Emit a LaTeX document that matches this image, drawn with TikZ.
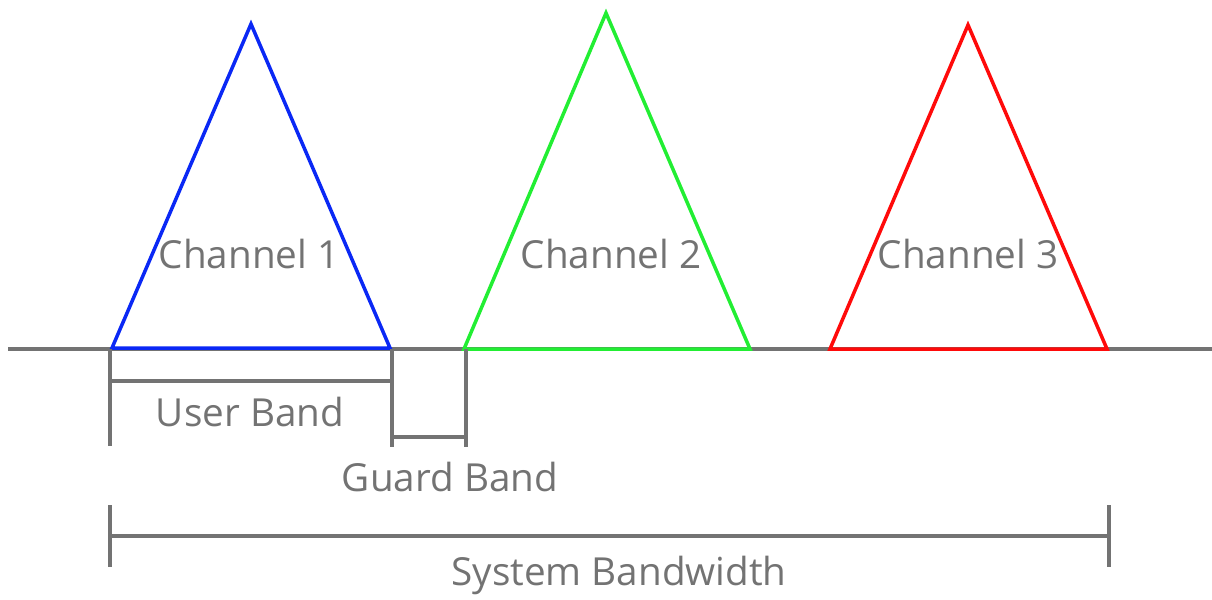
\documentclass[tikz,border=0pt]{standalone}
\usepackage{fontspec}
\setmainfont{Open Sans}
\definecolor{ln}{HTML}{737373}
\definecolor{chblue}{HTML}{0A28F5}
\definecolor{chgreen}{HTML}{22EE33}
\definecolor{chred}{HTML}{FF0A0A}
\tikzset{band/.style={ln, line width=2pt},
  tri/.style={line width=2pt, line join=miter},
  lbl/.style={text=ln, anchor=base, inner sep=0pt, font=\fontsize{22}{26}\selectfont}}

\begin{document}
\begin{tikzpicture}[x=0.02cm, y=-0.02cm]
    \useasboundingbox (0, 0) rectangle (1212, 599);
    % axis
    \coordinate (axl) at (8, 349);
    \coordinate (axr) at (1212, 349);
    \draw[band] (axl) -- (axr);
    % channels
    \draw[tri, chblue] (112, 348) -- (251, 24) -- (390, 348) -- cycle;
    \draw[tri, chgreen] (464, 349) -- (606, 13) -- (750, 349) -- cycle;
    \draw[tri, chred] (830, 349) -- (968, 25) -- (1107, 349) -- cycle;
    \node[lbl] (ch1) at (249, 268) {Channel 1};
    \node[lbl] (ch2) at (611, 268) {Channel 2};
    \node[lbl] (ch3) at (968, 268) {Channel 3};
    % user band and guard band
    \draw[band] (110, 349) -- (110, 446);
    \draw[band] (110, 381) -- (392, 381);
    \draw[band] (392, 349) -- (392, 447);
    \draw[band] (392, 437) -- (466, 437) (466, 349) -- (466, 447);
    \node[lbl] (ub) at (250, 426) {User Band};
    \node[lbl] (gb) at (450, 491) {Guard Band};
    % system bandwidth
    \draw[band] (110, 505) -- (110, 567) (1109, 505) -- (1109, 567);
    \draw[band] (110, 536) -- (1109, 536);
    \node[lbl] (sb) at (619, 585) {System Bandwidth};
\end{tikzpicture}
\end{document}
